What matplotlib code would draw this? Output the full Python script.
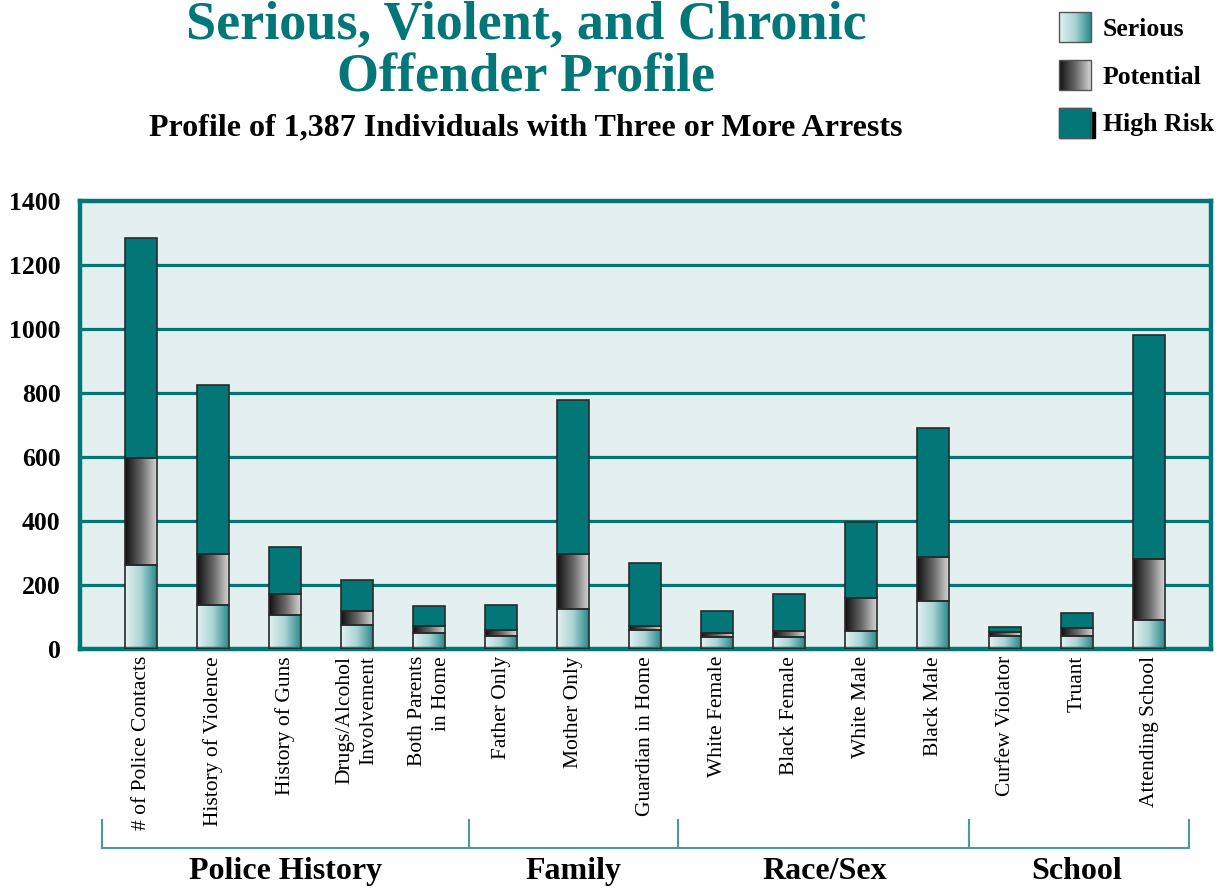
import numpy as np
import matplotlib
matplotlib.use("Agg")
import matplotlib.pyplot as plt
from matplotlib.colors import LinearSegmentedColormap
from matplotlib.transforms import blended_transform_factory
from matplotlib.patches import Rectangle

categories = ["# of Police Contacts", "History of Violence", "History of Guns",
              "Drugs/Alcohol\nInvolvement", "Both Parents\nin Home", "Father Only",
              "Mother Only", "Guardian in Home", "White Female", "Black Female",
              "White Male", "Black Male", "Curfew Violator", "Truant", "Attending School"]
serious   = [262, 138, 106, 74, 49, 40, 124, 58, 38, 38, 56, 149, 40, 40, 90]
potential = [335, 159, 65, 44, 22, 18, 172, 15, 11, 18, 104, 138, 12, 25, 190]
high_risk = [687, 528, 147, 97, 62, 79, 482, 195, 69, 116, 237, 404, 18, 47, 701]
groups = ["Police History", "Family", "Race/Sex", "School"]
group_bounds = [(-0.55, 4.55), (4.55, 7.45), (7.45, 11.5), (11.5, 14.55)]
yticks = [0, 200, 400, 600, 800, 1000, 1200, 1400]

TEAL = "#037777"
BG = "#e4f0f0"
serif = ["Liberation Serif", "DejaVu Serif"]

fig = plt.figure(figsize=(12.21, 8.88), dpi=100)
ax = fig.add_axes([80/1221, 1-649/888, (1211-80)/1221, (649-201)/888])
ax.set_facecolor(BG)

x = np.arange(len(categories))
w = 0.44
cm_serious = LinearSegmentedColormap.from_list("s", ["#e2f2f2", "#a9d3d3", "#2b8b8b"])
cm_pot = LinearSegmentedColormap.from_list("p", ["#111111", "#666666", "#d4d4d4"])
grad = np.linspace(0, 1, 64).reshape(1, -1)

for gy in yticks[1:-1]:
    ax.axhline(gy, color=TEAL, lw=2.3, zorder=1)

for i in range(len(categories)):
    s, p, h = serious[i], potential[i], high_risk[i]
    x0, x1 = x[i] - w/2, x[i] + w/2
    ax.imshow(grad, extent=[x0, x1, 0, s], aspect="auto", cmap=cm_serious, zorder=2)
    ax.imshow(grad, extent=[x0, x1, s, s + p], aspect="auto", cmap=cm_pot, zorder=2)
    ax.bar(x[i], h, w, bottom=s + p, color=TEAL, zorder=2)
    for b, hh in [(0, s), (s, p), (s + p, h)]:
        ax.add_patch(Rectangle((x0, b), w, hh, fill=False, ec="#2a2a2a", lw=1.2, zorder=3))

ax.set_xlim(-0.85, 14.86)
ax.set_ylim(0, 1400)
ax.set_yticks(yticks)
ax.set_yticklabels([str(t) for t in yticks], fontfamily=serif, fontweight="bold", fontsize=18.5)
ax.set_xticks(x)
ax.set_xticklabels(categories, rotation=90, fontfamily=serif, fontsize=15.5,
                   multialignment="right", linespacing=1.35)
ax.tick_params(axis="both", length=0)
ax.tick_params(axis="x", pad=5)
ax.tick_params(axis="y", pad=14)
for sp in ax.spines.values():
    sp.set_color(TEAL)
    sp.set_linewidth(3.2)

# group brackets
tr = blended_transform_factory(ax.transData, fig.transFigure)
yb = 1 - 848/888
yt = 1 - 820/888
BR = "#4a9c9c"
ax.plot([group_bounds[0][0], group_bounds[-1][1]], [yb, yb], color=BR, lw=1.5,
        transform=tr, clip_on=False)
edges = [group_bounds[0][0]] + [g[1] for g in group_bounds]
for e in edges:
    ax.plot([e, e], [yb, yt], color=BR, lw=1.5, transform=tr, clip_on=False)
group_centers = [2.0, 6.0, 9.5, 13.0]
for g, c in zip(groups, group_centers):
    ax.text(c, 1 - 871/888, g, transform=tr, ha="center", va="center",
            fontfamily=serif, fontweight="bold", fontsize=23)

# titles
fig.text(526/1221, 1 - 25/888, "Serious, Violent, and Chronic",
         ha="center", va="center", color=TEAL, fontfamily=serif, fontweight="bold",
         fontsize=39)
fig.text(526/1221, 1 - 79/888, "Offender Profile",
         ha="center", va="center", color=TEAL, fontfamily=serif, fontweight="bold",
         fontsize=39)
fig.text(526/1221, 1 - 128/888, "Profile of 1,387 Individuals with Three or More Arrests",
         ha="center", va="center", fontfamily=serif, fontweight="bold", fontsize=23)

# legend
lax = fig.add_axes([0, 0, 1, 1], facecolor="none")
lax.set_xlim(0, 1221)
lax.set_ylim(888, 0)
lax.axis("off")
legend_labels = ["Serious", "Potential", "High Risk"]
legend_y = [12, 60, 108]
for lab, ly, kind in zip(legend_labels, legend_y, ["s", "p", "h"]):
    if kind == "s":
        lax.imshow(grad, extent=[1059, 1091, ly + 30, ly], aspect="auto", cmap=cm_serious)
    elif kind == "p":
        lax.imshow(grad, extent=[1059, 1091, ly + 30, ly], aspect="auto", cmap=cm_pot)
    else:
        lax.add_patch(Rectangle((1059, ly), 32, 30, color=TEAL))
        lax.add_patch(Rectangle((1091, ly + 4), 4, 26, color="black"))
    lax.add_patch(Rectangle((1059, ly), 32, 30, fill=False, ec="#555555", lw=1))
    lax.text(1103, ly + 17, lab, ha="left", va="center", fontfamily=serif,
             fontweight="bold", fontsize=18.5)
lax.set_xlim(0, 1221)
lax.set_ylim(888, 0)

fig.savefig("out.png", dpi=100)
